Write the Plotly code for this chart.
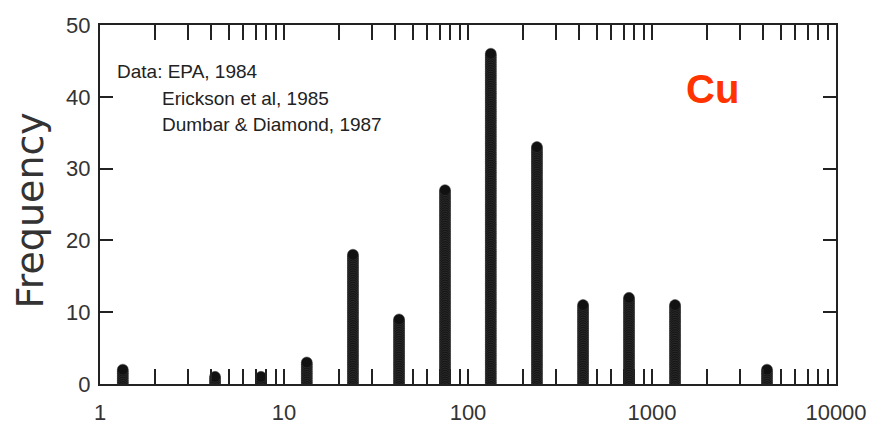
import numpy as np
import plotly.graph_objects as go

# Bin centres (Cu concentration, log-spaced bins) and frequencies
bin_centers = [1.33, 4.22, 7.5, 13.3, 23.7, 42.2, 75, 133, 237, 422, 750, 1334, 4217]
frequency = [2, 1, 1, 3, 18, 9, 27, 46, 33, 11, 12, 11, 2]

x_major = [1, 10, 100, 1000, 10000]
x_major_labels = ["1", "10", "100", "1000", "10000"]
y_ticks = [0, 10, 20, 30, 40, 50]

source_lines = ["Data: EPA, 1984", "Erickson et al, 1985", "Dumbar & Diamond, 1987"]
element = "Cu"

# build stacked dot columns from frequencies
step = 0.25
xs, ys = [], []
for c, f in zip(bin_centers, frequency):
    for v in np.arange(0, f + 1e-9, step):
        xs.append(c)
        ys.append(v)

# tick values: all 1..9 x 10^k, labelled only at powers of ten
tickvals, ticktext = [], []
for k in range(4):
    for m in range(1, 10):
        v = m * 10 ** k
        tickvals.append(v)
        ticktext.append(x_major_labels[k] if m == 1 else "")
tickvals.append(x_major[-1])
ticktext.append(x_major_labels[-1])

fig = go.Figure()
fig.add_trace(go.Scatter(
    x=xs, y=ys, mode="markers",
    marker=dict(size=11, color="#111111", line=dict(width=0.5, color="#444444")),
    showlegend=False, hoverinfo="skip",
))

tickfont = dict(family="Liberation Sans, Arial, sans-serif", size=22, color="#333333")
fig.update_xaxes(
    type="log", range=[0, 4],
    tickvals=tickvals, ticktext=ticktext,
    ticks="inside", ticklen=15, tickwidth=2, tickcolor="#222222",
    showline=True, linewidth=2, linecolor="#222222", mirror="allticks",
    showgrid=False, zeroline=False, tickfont=tickfont, ticklabelstandoff=8,
)
fig.update_yaxes(
    range=[0, 50], tickvals=y_ticks,
    ticks="inside", ticklen=13, tickwidth=2, tickcolor="#222222",
    showline=True, linewidth=2, linecolor="#222222", mirror="allticks",
    showgrid=False, zeroline=False, tickfont=tickfont, ticklabelstandoff=3,
)

W, H = 882, 437
L, R, T, B = 100, 46, 25, 50
pw, ph = W - L - R, H - T - B

def px(xp):
    return (xp - L) / pw

def py(yp):
    return (H - B - yp) / ph

annots = []
txtfont = dict(family="Liberation Sans, Arial, sans-serif", size=19, color="#222222")
positions = [(115, 72), (160, 99), (160, 125)]
for line, (ax_, ay_) in zip(source_lines, positions):
    annots.append(dict(text=line, xref="paper", yref="paper", x=px(ax_), y=py(ay_),
                       xanchor="left", yanchor="middle", showarrow=False, font=txtfont))
annots.append(dict(text="<b>%s</b>" % element, xref="paper", yref="paper", x=px(712), y=py(90),
                   xanchor="center", yanchor="middle", showarrow=False,
                   font=dict(family="Liberation Sans, Arial, sans-serif", size=40, color="#FF3300")))
annots.append(dict(text="Frequency", xref="paper", yref="paper", x=px(30), y=py(212),
                   xanchor="center", yanchor="middle", textangle=-90, showarrow=False,
                   font=dict(family="DejaVu Sans, sans-serif", size=38, color="#333333")))

fig.update_layout(
    width=W, height=H,
    margin=dict(l=L, r=R, t=T, b=B),
    paper_bgcolor="white", plot_bgcolor="white",
    annotations=annots,
)

fig.write_html("out.html")
